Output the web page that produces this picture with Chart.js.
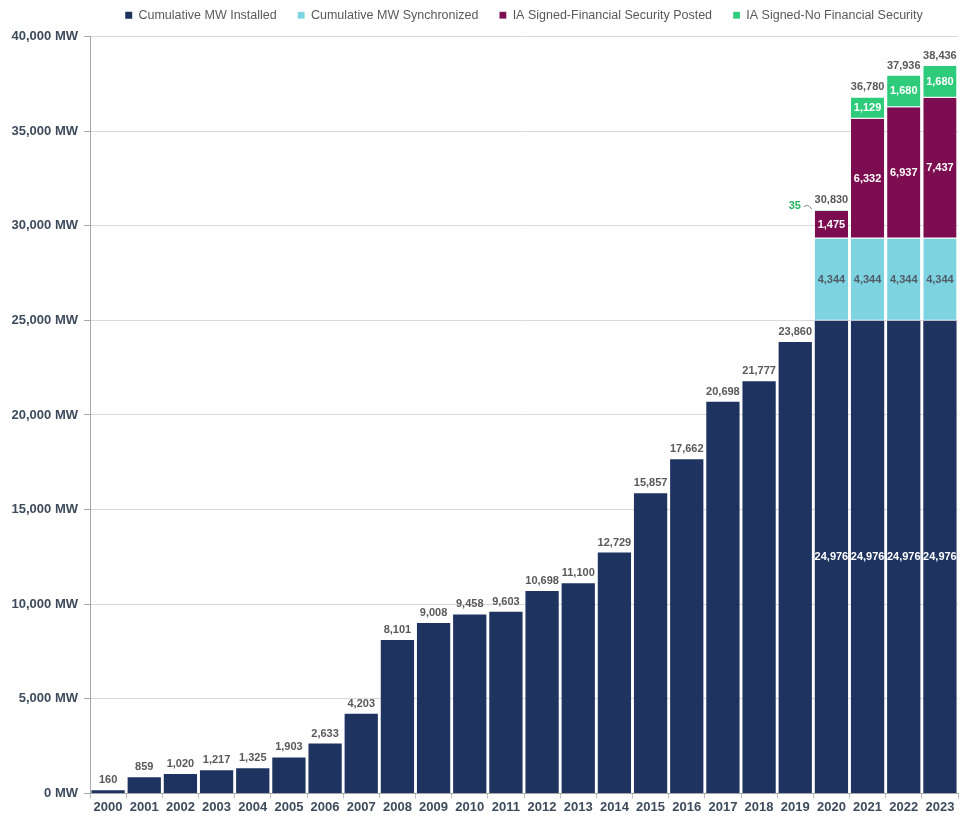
<!DOCTYPE html>
<html>
<head>
<meta charset="utf-8">
<script src="https://cdn.jsdelivr.net/npm/chart.js@4"></script>
<style>
  html, body { margin: 0; padding: 0; background: #fff; }
  #wrap { width: 965px; height: 816px; }
</style>
</head>
<body>
<div id="wrap"><canvas id="myChart" width="965" height="816"></canvas></div>
<script>
const years = ['2000', '2001', '2002', '2003', '2004', '2005', '2006', '2007', '2008', '2009', '2010', '2011',
    '2012', '2013', '2014', '2015', '2016', '2017', '2018', '2019', '2020', '2021', '2022', '2023'],
    installed = [160, 859, 1020, 1217, 1325, 1903, 2633, 4203, 8101, 9008, 9458, 9603,
        10698, 11100, 12729, 15857, 17662, 20698, 21777, 23860, 24976, 24976, 24976, 24976],
    synchronized = [null, null, null, null, null, null, null, null, null, null, null, null,
        null, null, null, null, null, null, null, null, 4344, 4344, 4344, 4344],
    securityPosted = [null, null, null, null, null, null, null, null, null, null, null, null,
        null, null, null, null, null, null, null, null, 1475, 6332, 6937, 7437],
    noSecurity = [null, null, null, null, null, null, null, null, null, null, null, null,
        null, null, null, null, null, null, null, null, 35, 1129, 1680, 1680],
    totals = [160, 859, 1020, 1217, 1325, 1903, 2633, 4203, 8101, 9008, 9458, 9603,
        10698, 11100, 12729, 15857, 17662, 20698, 21777, 23860, 30830, 36780, 37936, 38436],
    seriesNames = ['Cumulative MW Installed', 'Cumulative MW Synchronized',
        'IA Signed-Financial Security Posted', 'IA Signed-No Financial Security'],
    yTicks = [0, 5000, 10000, 15000, 20000, 25000, 30000, 35000, 40000];

const colors = ['#1f3360', '#7dd4e0', '#7b0d50', '#2ecc7a'],
    labelColors = ['#ffffff', '#4f5b66', '#ffffff', '#ffffff'],
    font = '"Liberation Sans", Arial, sans-serif',
    fmt = v => v.toLocaleString('en-US');

// value labels: segment values inside the stacked bars, totals on top
const barLabels = {
    id: 'barLabels',
    afterInit(chart) {
        // a bit more room between the legend and the plot
        const legend = chart.legend, fit = legend.fit;
        legend.fit = function () {
            fit.call(this);
            this.height += 5;
        };
    },
    afterDatasetsDraw(chart) {
        const ctx = chart.ctx;
        ctx.save();
        ctx.font = 'bold 11px ' + font;
        ctx.textAlign = 'center';
        ctx.textBaseline = 'middle';

        chart.data.datasets.forEach((ds, di) => {
            const meta = chart.getDatasetMeta(di);
            meta.data.forEach((bar, i) => {
                const v = ds.data[i];
                if (v == null || synchronized[i] == null) return;
                if (v < 100) {
                    // tiny segment: label off to the left with a leader
                    ctx.fillStyle = '#22b35e';
                    ctx.fillText(fmt(v), bar.x - bar.width / 2 - 20, bar.y - 4);
                    ctx.strokeStyle = '#888';
                    ctx.lineWidth = 1;
                    ctx.beginPath();
                    ctx.moveTo(bar.x - bar.width / 2 - 11, bar.y - 3);
                    ctx.quadraticCurveTo(bar.x - bar.width / 2 - 7, bar.y - 7, bar.x - bar.width / 2 - 3, bar.y - 1);
                    ctx.stroke();
                    return;
                }
                ctx.fillStyle = labelColors[di];
                ctx.fillText(fmt(v), bar.x, (bar.y + bar.base) / 2);
            });
        });

        // totals above each stack
        ctx.fillStyle = '#595959';
        ctx.textBaseline = 'alphabetic';
        const y = chart.scales.y;
        chart.getDatasetMeta(0).data.forEach((bar, i) => {
            ctx.fillText(fmt(totals[i]), bar.x, y.getPixelForValue(totals[i]) - 7);
        });
        ctx.restore();
    }
};

const seriesData = [installed, synchronized, securityPosted, noSecurity];

const myChart = new Chart(document.getElementById('myChart'), {
    type: 'bar',
    data: {
        labels: years,
        datasets: seriesNames.map((name, i) => ({
            label: name,
            data: seriesData[i],
            backgroundColor: colors[i],
            borderColor: '#ffffff',
            borderWidth: i === 0 ? 0 : { bottom: 1 },
            borderSkipped: false,
            barPercentage: 0.92,
            categoryPercentage: 1
        }))
    },
    options: {
        responsive: false,
        animation: false,
        layout: { padding: { top: -12, right: 7, bottom: 0, left: 0 } },
        plugins: {
            legend: {
                position: 'top',
                fullSize: false,
                labels: {
                    boxWidth: 7,
                    boxHeight: 7,
                    padding: 21,
                    color: '#595959',
                    font: { family: font, size: 12.5 }
                }
            },
            tooltip: { enabled: false }
        },
        scales: {
            x: {
                stacked: true,
                grid: { offset: true, drawOnChartArea: false, tickLength: 5, color: '#bfbfbf' },
                border: { color: '#a6a6a6' },
                ticks: { color: '#3d4b5c', font: { family: font, size: 13, weight: 'bold' }, padding: 1 }
            },
            y: {
                stacked: true,
                min: 0,
                max: 40000,
                afterBuildTicks: s => { s.ticks = yTicks.map(v => ({ value: v })); },
                afterFit: s => { s.width = 90; },
                grid: { color: '#d9d9d9', tickLength: 6, tickColor: '#a6a6a6' },
                border: { color: '#a6a6a6' },
                ticks: {
                    color: '#3d4b5c',
                    font: { family: font, size: 13, weight: 'bold' },
                    padding: 6,
                    callback: v => fmt(v) + ' MW'
                }
            }
        }
    },
    plugins: [barLabels]
});
</script>
</body>
</html>
